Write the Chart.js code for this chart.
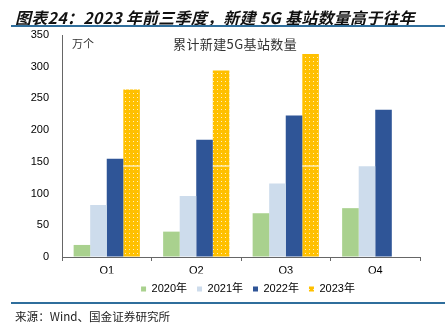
<!DOCTYPE html>
<html>
<head>
<meta charset="utf-8">
<script src="https://cdn.jsdelivr.net/npm/chart.js@4.4.0/dist/chart.umd.min.js"></script>
<style>
  body { margin: 0; background: #fff; }
  #wrap { position: relative; width: 445px; height: 329px; overflow: hidden; font-family: "Noto Sans CJK SC", sans-serif; }
  #chart { position: absolute; left: 0; top: 0; }
  .txt { position: absolute; white-space: nowrap; color: #222; }
  .rule { position: absolute; left: 11px; right: 0; height: 1.5px; background: #2f6e9c; }
</style>
</head>
<body>
<div id="wrap">
  <canvas id="chart" width="445" height="329"></canvas>
  <div class="txt" style="left:15px; top:5px; font-size:16px; letter-spacing:0.25px; font-weight:bold; font-style:italic; color:#111;">图表24：2023 年前三季度，新建 5G 基站数量高于往年</div>
  <div class="rule" style="top:25px;"></div>
  <div class="txt" style="left:72px; top:35px; font-size:11px; color:#333;">万个</div>
  <div class="txt" style="left:173px; top:34px; font-size:13px; letter-spacing:0.4px; color:#333;">累计新建5G基站数量</div>
  <div class="rule" style="top:302px;"></div>
  <div class="txt" style="left:15px; top:308px; font-size:11.6px; color:#222;">来源：Wind、国金证券研究所</div>
</div>
<script>
const quarters = ["Q1", "Q2", "Q3", "Q4"];
const years = ["2020年", "2021年", "2022年", "2023年"];
const values2020 = [19, 40, 69, 77];
const values2021 = [82, 96, 116, 143];
const values2022 = [155, 185, 223, 232];
const values2023 = [264, 294, 320, null];
const yTicks = [0, 50, 100, 150, 200, 250, 300, 350];
const seamValue = 143; // thin white seam across the 2023 bars

// dotted yellow fill
function dotPattern() {
  const c = document.createElement('canvas');
  c.width = 4; c.height = 4;
  const g = c.getContext('2d');
  g.fillStyle = '#ffc000';
  g.fillRect(0, 0, 4, 4);
  g.fillStyle = 'rgba(255,255,255,0.75)';
  g.fillRect(1, 1, 1, 1);
  return g.createPattern(c, 'repeat');
}
const yellow = dotPattern();

const shiftLegend = {
  id: 'shiftLegend',
  afterLayout(chart) {
    chart.legend.left += 33;
    chart.legend.right += 33;
  }
};

const seam = {
  id: 'seam',
  afterDatasetsDraw(chart) {
    const meta = chart.getDatasetMeta(3);
    const y = chart.scales.y.getPixelForValue(seamValue);
    const ctx = chart.ctx;
    ctx.save();
    ctx.fillStyle = '#ffffff';
    meta.data.forEach((bar, i) => {
      if (values2023[i] == null) return;
      ctx.fillRect(bar.x - bar.width / 2, Math.round(y) - 0.5, bar.width, 1);
    });
    ctx.restore();
  }
};

new Chart(document.getElementById('chart'), {
  type: 'bar',
  data: {
    labels: quarters,
    datasets: [
      { label: years[0], data: values2020, backgroundColor: '#a9d18e' },
      { label: years[1], data: values2021, backgroundColor: '#cddcec' },
      { label: years[2], data: values2022, backgroundColor: '#2f5597' },
      { label: years[3], data: values2023, backgroundColor: yellow }
    ]
  },
  options: {
    responsive: false,
    animation: false,
    categoryPercentage: 0.74,
    barPercentage: 1,
    layout: { padding: { left: 10, right: 25, top: 35, bottom: 24.5 } },
    scales: {
      x: {
        grid: { drawOnChartArea: false, drawTicks: true, tickLength: 4, color: '#666' },
        border: { color: '#666' },
        ticks: { color: '#000', font: { family: 'Liberation Sans', size: 11 }, padding: 3 },
        afterFit(scale) { scale.height = 16.5; }
      },
      y: {
        min: 0,
        max: 350,
        afterBuildTicks(scale) { scale.ticks = yTicks.map(v => ({ value: v })); },
        grid: { drawOnChartArea: false, drawTicks: false },
        border: { color: '#666' },
        ticks: { color: '#000', font: { family: 'Liberation Sans', size: 11 }, padding: 13 },
        afterFit(scale) { scale.width = 52; }
      }
    },
    plugins: {
      legend: {
        position: 'bottom',
        labels: {
          boxWidth: 5,
          boxHeight: 5,
          padding: 10,
          color: '#000',
          font: { family: "'Liberation Sans', 'Noto Sans CJK SC'", size: 11 }
        }
      },
      tooltip: { enabled: false }
    }
  },
  plugins: [shiftLegend, seam]
});
</script>
</body>
</html>
